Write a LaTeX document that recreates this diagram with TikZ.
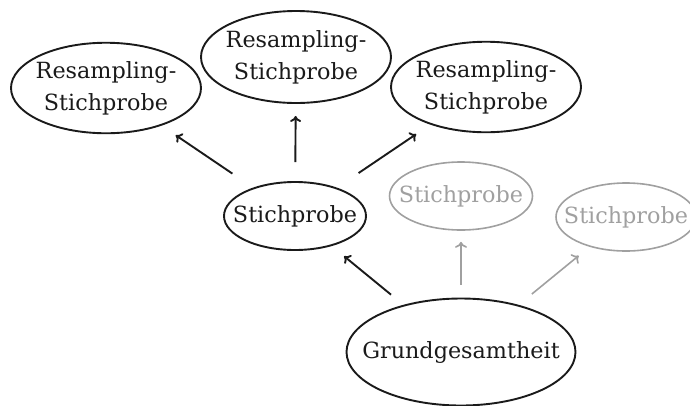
\documentclass[tikz,border=0pt]{standalone}
\usepackage{fontspec}
\setmainfont{DejaVu Serif}
\usetikzlibrary{shapes.geometric,arrows.meta}
\definecolor{ink}{HTML}{1A1A1A}
\definecolor{faded}{HTML}{A0A0A0}
\newcommand\ovaltext[1]{\makebox[0pt]{\begin{tabular}{@{}c@{}}#1\end{tabular}}}
\tikzset{
  oval/.style={ellipse, draw=ink, text=ink, line width=1.9pt, inner sep=0pt,
    font=\fontsize{22.3}{32}\selectfont},
  fadedoval/.style={oval, draw=faded, text=faded, line width=1.6pt},
  link/.style={draw=ink, line width=1.9pt, -{To[length=6pt,width=11pt]}},
  fadedlink/.style={link, draw=faded, line width=1.6pt, -{To[length=6pt,width=12pt]}},
}
\begin{document}
\begin{tikzpicture}[x=1pt,y=-1pt]
\useasboundingbox (0,0) rectangle (690,405);
\node[oval, minimum width=190pt, minimum height=88pt] (r1) at (106,88) {\ovaltext{Resampling-\\Stichprobe}};
\node[oval, minimum width=190pt, minimum height=92pt] (r2) at (296,57) {\ovaltext{Resampling-\\Stichprobe}};
\node[oval, minimum width=190pt, minimum height=90pt] (r3) at (486,87) {\ovaltext{Resampling-\\Stichprobe}};
\node[oval, minimum width=142pt, minimum height=68pt] (s) at (295,216) {\ovaltext{Stichprobe}};
\node[fadedoval, minimum width=143pt, minimum height=68pt] (g1) at (461,196) {\ovaltext{Stichprobe}};
\node[fadedoval, minimum width=140pt, minimum height=68pt] (g2) at (626,217) {\ovaltext{Stichprobe}};
\node[oval, minimum width=229pt, minimum height=107pt] (p) at (461,352) {\ovaltext{Grundgesamtheit}};
\draw[link, shorten <=25pt, shorten >=17pt] (s) -- (r1);
\draw[link, shorten <=19pt, shorten >=12pt] (s) -- (r2);
\draw[link, shorten <=26pt, shorten >=17pt] (s) -- (r3);
\draw[link, shorten <=16pt, shorten >=16pt] (p) -- (s);
\draw[fadedlink, shorten <=13pt, shorten >=11pt] (p) -- (g1);
\draw[fadedlink, shorten <=17pt, shorten >=14pt] (p) -- (g2);
\end{tikzpicture}
\end{document}
